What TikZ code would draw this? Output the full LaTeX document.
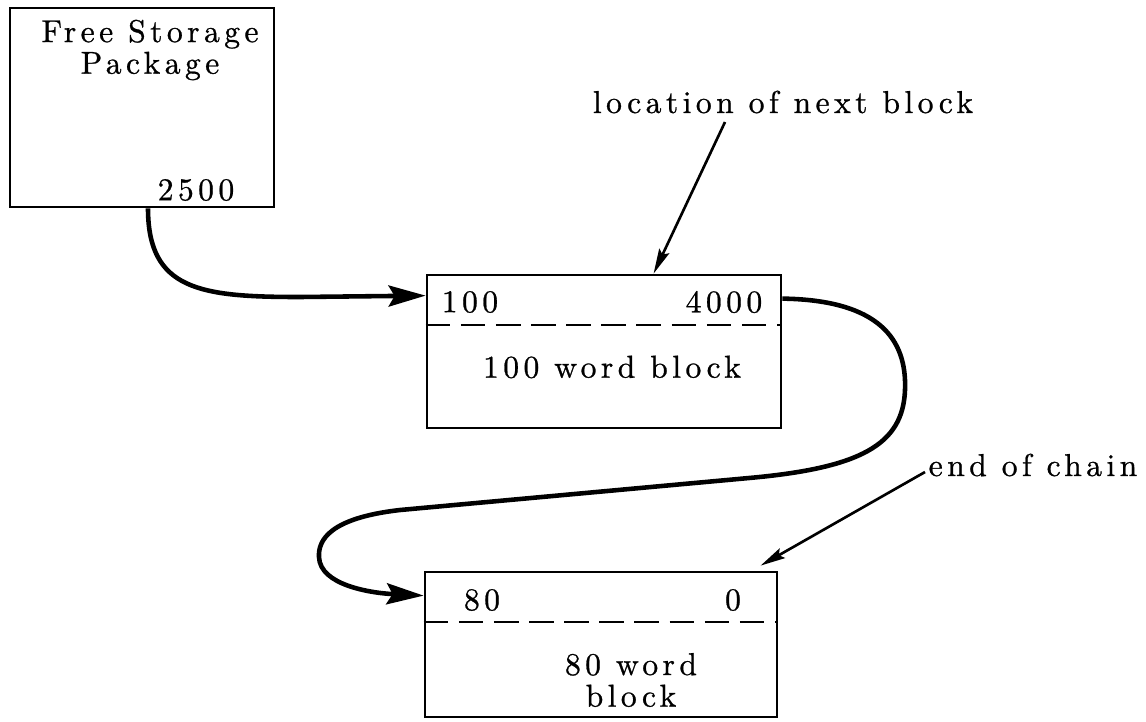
\documentclass[tikz,border=0pt]{standalone}
\usepackage{fontspec}
\setmainfont{lmroman10-regular.otf}[LetterSpace=14,FakeBold=0.8]
\usetikzlibrary{arrows.meta}
\begin{document}
\begin{tikzpicture}[x=0.02cm,y=-0.02cm,
  box/.style={draw,line width=1.6pt,inner sep=0pt},
  lbl/.style={inner sep=0pt,font=\fontsize{18}{18}\selectfont},
  link/.style={line width=2.6pt,-{Stealth[length=0.74cm,width=0.42cm,inset=0.12cm]}},
  note/.style={line width=1.5pt,-{Stealth[length=0.5cm,width=0.22cm,inset=0.08cm]}},
  sep/.style={line width=1.5pt,dash pattern=on 14pt off 6pt}]
\useasboundingbox (0,0) rectangle (1146,721);

% storage package and the two blocks of the chain
\node[box,minimum width=5.28cm,minimum height=3.98cm] (fsp) at (142,107.5) {};
\node[box,minimum width=7.08cm,minimum height=3.06cm] (b1) at (604,351.5) {};
\node[box,minimum width=7.04cm,minimum height=2.9cm] (b2) at (601,644.5) {};

% header separators
\draw[sep] (b1.west |- 0,325) -- (b1.east |- 0,325);
\draw[sep] (b2.west |- 0,622) -- (b2.east |- 0,622);

% texts
\node[lbl,align=center] (fsptxt) at (150,50) {Free Storage\\Package};
\node[lbl] (p0) at (196,190) {2500};
\node[lbl] (h1) at (470,302) {100};
\node[lbl] (n1) at (724,302) {4000};
\node[lbl] (t1) at (612,367) {100 word block};
\node[lbl] (h2) at (482,600) {80};
\node[lbl] (n2) at (733,600) {0};
\node[lbl,align=center] (t2) at (631,680) {80 word\\block};
\node[lbl] (lnb) at (783,102) {location of next block};
\node[lbl] (eoc) at (1033,465) {end of chain};

% chain links
\draw[link] ([xshift=0.12cm]fsp.south) .. controls (148,290) and (200,297) .. (300,297)
  -- ([yshift=-0.44cm]b1.north west);
\draw[link] ([yshift=-0.5cm]b1.north east) .. controls (880,300) and (907,340) .. (905,390)
  .. controls (903,445) and (860,468) .. (749,478) -- (400,510)
  .. controls (330,518) and (318,540) .. (319,557)
  .. controls (320,585) and (370,593) .. ([yshift=-0.5cm]b2.north west);

% annotations
\draw[note] ([xshift=-1.16cm,yshift=-0.4cm]lnb.center) -- ([xshift=4.56cm]b1.north west);
\draw[note] ([xshift=-2.16cm,yshift=-0.14cm]eoc.center) -- ([xshift=6.74cm,yshift=0.1cm]b2.north west);
\end{tikzpicture}
\end{document}
